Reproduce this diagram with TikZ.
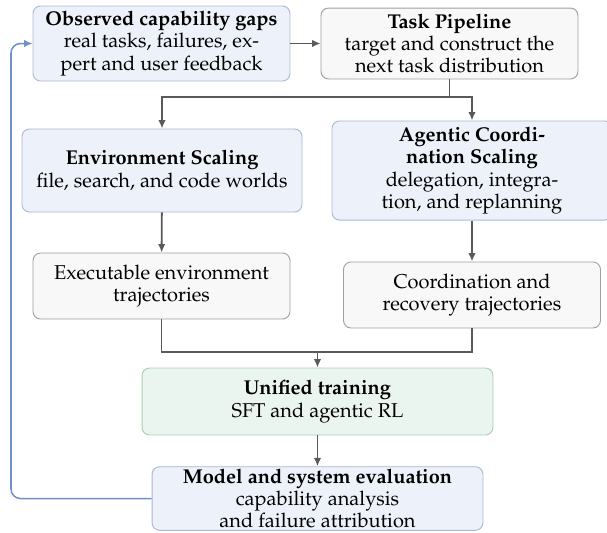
\documentclass[tikz,border=0pt]{standalone}
\usepackage[T1]{fontenc}
\IfFileExists{mathpazo.sty}{\usepackage{mathpazo}}{\IfFileExists{palatino.sty}{\usepackage{palatino}}{}}
\usetikzlibrary{arrows.meta}
\definecolor{bluefill}{HTML}{EDF1F9}
\definecolor{blueline}{HTML}{A9B8D6}
\definecolor{grayfill}{HTML}{F8F8F8}
\definecolor{grayline}{HTML}{A0A0A0}
\definecolor{greenfill}{HTML}{EAF5EF}
\definecolor{greenline}{HTML}{A6CFB4}
\definecolor{arrowgray}{HTML}{5A5A5A}
\definecolor{fbblue}{HTML}{7090C8}
\tikzset{
  box/.style={draw, rounded corners=4pt, line width=0.5pt, align=center, inner sep=2pt, font=\fontsize{10.6}{11.9}\selectfont},
  bluebox/.style={box, fill=bluefill, draw=blueline},
  graybox/.style={box, fill=grayfill, draw=grayline},
  greenbox/.style={box, fill=greenfill, draw=greenline},
  conn/.style={draw=arrowgray, line width=1pt},
  arr/.style={conn, -{Latex[length=4.5pt,width=4pt]}},
  fb/.style={draw=fbblue, line width=0.8pt, rounded corners=5pt, -{Latex[length=4.5pt,width=4pt]}}
}
\begin{document}
\begin{tikzpicture}[x=0.53pt,y=-0.53pt]
\useasboundingbox (0,0) rectangle (607,532);
\node[bluebox, minimum width=136.2pt, minimum height=39.75pt] (obs) at (161.5,43.5)
  {\textbf{Observed capability gaps}\\real tasks, failures, ex-\\pert and user feedback};
\node[graybox, minimum width=136.2pt, minimum height=37.6pt] (task) at (449.5,43.5)
  {\textbf{Task Pipeline}\\target and construct the\\next task distribution};
\node[bluebox, minimum width=148.4pt, minimum height=44pt] (env) at (162,170.5)
  {\textbf{Environment Scaling}\\file, search, and code worlds};
\node[bluebox, minimum width=148.4pt, minimum height=52.5pt] (agent) at (472,170.5)
  {\textbf{Agentic Coordi-}\\\textbf{nation Scaling}\\delegation, integra-\\tion, and replanning};
\node[graybox, minimum width=136.2pt, minimum height=35pt] (exec) at (161.5,286)
  {Executable environment\\trajectories};
\node[graybox, minimum width=136.2pt, minimum height=35pt] (coord) at (472,295)
  {Coordination and\\recovery trajectories};
\node[greenbox, minimum width=186pt, minimum height=35.5pt] (unified) at (317.5,401.5)
  {\textbf{Unified training}\\SFT and agentic RL};
\node[bluebox, minimum width=175.4pt, inner ysep=1pt] (eval) at (317.5,498.5)
  {\textbf{Model and system evaluation}\\capability analysis\\and failure attribution};
\coordinate (split) at (449.5,97);
\coordinate (merge) at (317.5,352);
\coordinate (fbx) at (11,300);
\draw[arr] (obs) -- (task);
\draw[conn] (task.south) -- (split);
\draw[arr] (split) -| (env.north);
\draw[arr] (split) -| (agent.north);
\draw[arr] (env) -- (exec);
\draw[arr] (agent) -- (coord);
\draw[conn] (exec.south) |- (merge);
\draw[conn] (coord.south) |- (merge);
\draw[arr] (merge) -- (unified.north);
\draw[arr] (unified) -- (eval);
\draw[fb] (eval.west) -| (fbx) |- (obs.west);
\end{tikzpicture}
\end{document}
